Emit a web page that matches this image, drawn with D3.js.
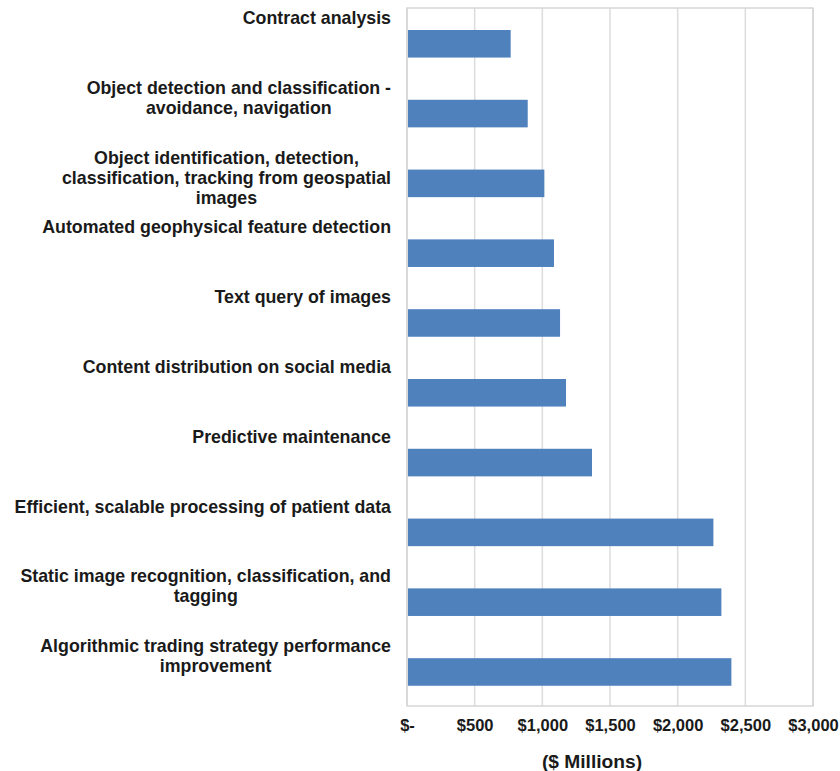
<!DOCTYPE html>
<html>
<head>
<meta charset="utf-8">
<script src="https://cdn.jsdelivr.net/npm/d3@7"></script>
<style>
  html, body { margin: 0; padding: 0; background: #fff; }
  svg { display: block; }
  text { font-family: "Liberation Sans", Arial, sans-serif; font-weight: bold; fill: #1a1a1a; }
</style>
</head>
<body>
<svg id="chart" width="840" height="771"></svg>
<script>
const categories = [
  "Contract analysis",
  "Object detection and classification - avoidance, navigation",
  "Object identification, detection, classification, tracking from geospatial images",
  "Automated geophysical feature detection",
  "Text query of images",
  "Content distribution on social media",
  "Predictive maintenance",
  "Efficient, scalable processing of patient data",
  "Static image recognition, classification, and tagging",
  "Algorithmic trading strategy performance improvement"
];
const labelLines = [
  ["Contract analysis"],
  ["Object detection and classification -", "avoidance, navigation"],
  ["Object identification, detection,", "classification, tracking from geospatial", "images"],
  ["Automated geophysical feature detection"],
  ["Text query of images"],
  ["Content distribution on social media"],
  ["Predictive maintenance"],
  ["Efficient, scalable processing of patient data"],
  ["Static image recognition, classification, and", "tagging"],
  ["Algorithmic trading strategy performance", "improvement"]
];
const values = [766, 892, 1015, 1086, 1131, 1175, 1367, 2264, 2323, 2397];
const tickValues = [0, 500, 1000, 1500, 2000, 2500, 3000];
const tickLabels = ["$-", "$500", "$1,000", "$1,500", "$2,000", "$2,500", "$3,000"];
const axisTitle = "($ Millions)";

(function () {
const svg = d3.select("#chart");
const pL = 407, pR = 813, pT = 8, pB = 706;

const x = d3.scaleLinear().domain([0, 3000]).range([pL, pR]);
const y = d3.scaleBand().domain(categories).range([pT, pB]).padding(0);

// gridlines
svg.append("g").selectAll("line").data(tickValues).join("line")
  .attr("x1", d => x(d)).attr("x2", d => x(d))
  .attr("y1", pT).attr("y2", pB)
  .attr("stroke", "#dcdcdc").attr("stroke-width", 1.5);

// frame
svg.append("rect")
  .attr("x", pL).attr("y", pT)
  .attr("width", pR - pL).attr("height", pB - pT)
  .attr("fill", "none").attr("stroke", "#d6d6d6").attr("stroke-width", 1.5);

// bars
const bw = y.bandwidth();
svg.append("g").selectAll("rect").data(categories).join("rect")
  .attr("x", x(0) + 1)
  .attr("y", d => y(d) + bw * 0.315)
  .attr("width", (d, i) => x(values[i]) - x(0) - 1)
  .attr("height", bw * 0.395)
  .attr("fill", "#4f81bd");

// category labels (block right-aligned, lines centered)
const labelRight = 391;
const lg = svg.append("g");
categories.forEach((c, i) => {
  const g = lg.append("g");
  const texts = labelLines[i].map((ln, j) =>
    g.append("text")
      .attr("font-size", 17.8)
      .attr("y", y(c) + 16 + j * 20)
      .text(ln));
  const maxW = d3.max(texts, t => t.node().getComputedTextLength());
  texts.forEach(t => t.attr("x", labelRight - maxW / 2).attr("text-anchor", "middle"));
});

// x axis tick labels
const axis = d3.axisBottom(x).tickValues(tickValues)
  .tickFormat((d, i) => tickLabels[i]).tickSize(0).tickPadding(0);
const ag = svg.append("g").attr("transform", `translate(0, ${pB})`).call(axis);
ag.select(".domain").remove();
ag.selectAll("text")
  .attr("dy", null).attr("y", 25)
  .attr("font-size", 16.5)
  .attr("font-family", "Liberation Sans, Arial, sans-serif")
  .attr("font-weight", "bold")
  .attr("fill", "#1a1a1a");

svg.append("text")
  .attr("x", 592).attr("y", 768)
  .attr("text-anchor", "middle")
  .attr("font-size", 19.2)
  .text(axisTitle);
})();
</script>
</body>
</html>
